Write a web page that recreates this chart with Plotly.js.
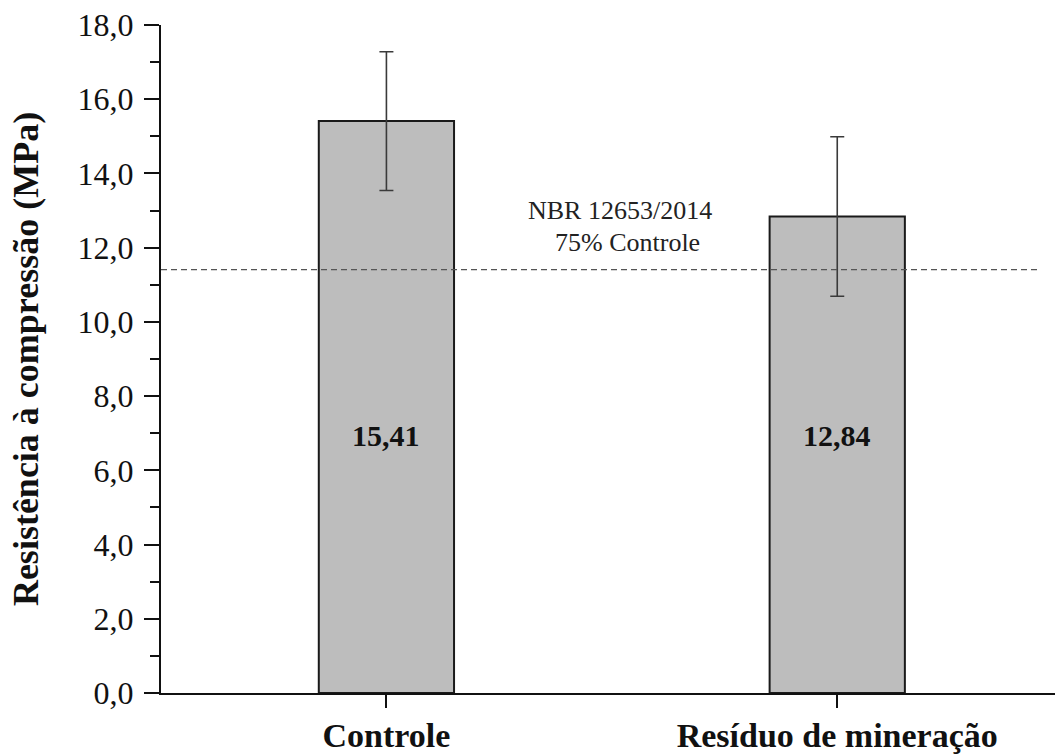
<!DOCTYPE html>
<html>
<head>
<meta charset="utf-8">
<script src="https://cdn.plot.ly/plotly-3.0.1.min.js"></script>
<style>html,body{margin:0;padding:0;background:#fff;}#chart{width:1055px;height:756px;}</style>
</head>
<body>
<div id="chart"></div>
<script>
const categories = ["Controle", "Resíduo de mineração"];
const resistencia = [15.41, 12.84];
const desvio = [1.87, 2.15];
const limiteNBR = 11.41;
const yTickVals = [0, 2, 4, 6, 8, 10, 12, 14, 16, 18];
const labelText = ["NBR 12653/2014", "75% Controle"];

const serif = "'Liberation Serif', 'Times New Roman', serif";

const trace = {
  type: "bar",
  x: categories,
  y: resistencia,
  width: 0.3,
  marker: {color: "#bdbdbd", line: {color: "#1a1a1a", width: 2}},
  error_y: {type: "data", array: desvio, visible: true, color: "#3a3a3a", thickness: 1.6, width: 7},
  hoverinfo: "skip"
};

const valueAnnotations = categories.map((c, i) => ({
  x: c, y: 6.95, xref: "x", yref: "y",
  text: "<b>" + resistencia[i].toFixed(2).replace(".", ",") + "</b>",
  showarrow: false,
  font: {family: serif, size: 30, color: "#111"}
}));

const layout = {
  width: 1055, height: 756,
  margin: {l: 161, r: 0, t: 25, b: 63},
  paper_bgcolor: "#fff", plot_bgcolor: "#fff",
  separators: ",.",
  showlegend: false,
  font: {family: serif, color: "#111"},
  xaxis: {
    type: "category",
    range: [-0.5, 1.483],
    showline: true, linecolor: "#111", linewidth: 2,
    ticks: "outside", ticklen: 13, tickwidth: 2, tickcolor: "#111",
    showgrid: false, zeroline: false,
    tickfont: {family: serif, size: 34, color: "#111", weight: "bold"},
    ticklabelstandoff: -2
  },
  yaxis: {
    range: [0, 18],
    tickvals: yTickVals,
    tickformat: ".1f",
    showline: true, linecolor: "#111", linewidth: 2,
    ticks: "outside", ticklen: 15, tickwidth: 2, tickcolor: "#111",
    minor: {dtick: 1, ticks: "outside", ticklen: 9, tickwidth: 2, tickcolor: "#111", showgrid: false},
    showgrid: false, zeroline: false,
    tickfont: {family: serif, size: 32, color: "#111"},
    ticklabelstandoff: 4,
    title: {text: "<b>Resistência à compressão (MPa)</b>", font: {family: serif, size: 36, color: "#111"}, standoff: 28},
    automargin: false
  },
  shapes: [{
    type: "line", xref: "paper", yref: "y",
    x0: 0, x1: 0.983, y0: limiteNBR, y1: limiteNBR,
    line: {color: "#555", width: 1.3, dash: "6px,4px"}
  }],
  annotations: [
    {xref: "x", yref: "y", x: 0.519, y: 13.0, text: labelText[0], showarrow: false,
     font: {family: serif, size: 26, color: "#222"}},
    {xref: "x", yref: "y", x: 0.535, y: 12.15, text: labelText[1], showarrow: false,
     font: {family: serif, size: 26, color: "#222"}}
  ].concat(valueAnnotations)
};

Plotly.newPlot("chart", [trace], layout, {displayModeBar: false, staticPlot: true});
</script>
</body>
</html>
